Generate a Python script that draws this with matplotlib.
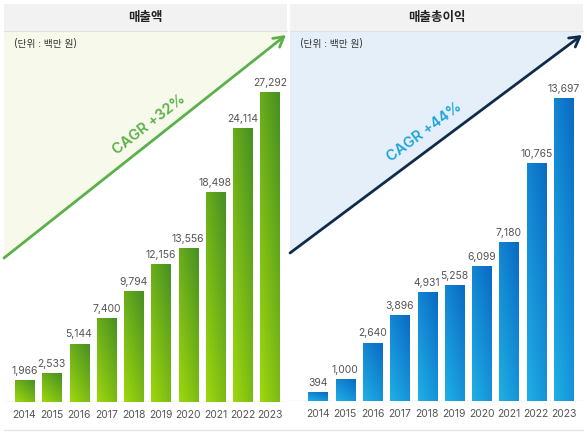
import numpy as np
import matplotlib.pyplot as plt
from matplotlib.patches import Rectangle, Polygon
from matplotlib.colors import to_rgb

plt.rcParams["font.family"] = ["Inter", "Noto Sans CJK KR", "DejaVu Sans"]

years = ["2014", "2015", "2016", "2017", "2018", "2019", "2020", "2021", "2022", "2023"]
sales = [1966, 2533, 5144, 7400, 9794, 12156, 13556, 18498, 24114, 27292]
gross_profit = [394, 1000, 2640, 3896, 4931, 5258, 6099, 7180, 10765, 13697]
titles = ["매출액", "매출총이익"]
cagr_labels = ["CAGR +32%", "CAGR +44%"]
unit_label = "(단위 : 백만 원)"

W, H = 587, 436
fig = plt.figure(figsize=(W / 100, H / 100), dpi=100)

# background layer in pixel coordinates
bg = fig.add_axes([0, 0, 1, 1])
bg.set_xlim(0, W)
bg.set_ylim(H, 0)
bg.axis("off")

panels = [
    dict(x0=4, x1=287, ybot=258, tri="#f7f9ea", arrow="#5bb04a", cagr="#5bb04a",
         cpos=(149, 125), rot=38.2),
    dict(x0=290, x1=583, ybot=253, tri="#e5eff9", arrow="#0e2b4b", cagr="#1fa3db",
         cpos=(424, 132), rot=36.7),
]

for p, title, cagr in zip(panels, titles, cagr_labels):
    bg.add_patch(Rectangle((p["x0"], 4), p["x1"] - p["x0"], 27, color="#f2f2f2", lw=0))
    bg.plot([p["x0"], p["x1"]], [31.5, 31.5], color="#e2e2e2", lw=0.8)
    bg.text((p["x0"] + p["x1"]) / 2, 17.5, title, ha="center", va="center",
            fontsize=9, fontweight="bold", color="#222222",
            family=["Noto Sans CJK KR", "DejaVu Sans"])
    bg.add_patch(Polygon([(p["x0"], 32), (p["x1"], 32), (p["x0"], p["ybot"])],
                         closed=True, color=p["tri"], lw=0))
    bg.annotate("", xy=(p["x1"] - 1, 35), xytext=(p["x0"], p["ybot"]),
                arrowprops=dict(arrowstyle="->,head_length=0.7,head_width=0.4",
                                color=p["arrow"], lw=2, shrinkA=0, shrinkB=0))
    bg.text(p["x0"] + 10, 44, unit_label, ha="left", va="center", fontsize=7,
            color="#333333")
    bg.text(p["cpos"][0], p["cpos"][1], cagr, ha="center", va="center",
            rotation=p["rot"], rotation_mode="anchor", fontsize=10.5,
            fontweight="semibold", color=p["cagr"])

bg.plot([4, 583], [430, 430], color="#e6e6e6", lw=1)


def gradient_bars(ax, values, light, dark, base_px, top_px, scale, left_px, right_px, c0):
    spacing = 27.28
    x = np.arange(len(values))
    ax.set_position([left_px / W, (H - base_px) / H, (right_px - left_px) / W,
                     (base_px - top_px) / H])
    bars = ax.bar(x, values, width=0.7, color="none", lw=0)
    light = np.array(to_rgb(light))
    dark = np.array(to_rgb(dark))
    u = np.linspace(0, 1, 30)
    v = np.linspace(1, 0, 120)
    uu, vv = np.meshgrid(u, v)
    d = (uu * 0.8 + vv * 1.2) / 2
    img = light[None, None, :] * (1 - d[..., None]) + dark[None, None, :] * d[..., None]
    for b in bars:
        bx, bw, bh = b.get_x(), b.get_width(), b.get_height()
        im = ax.imshow(img, extent=[bx, bx + bw, 0, bh], aspect="auto",
                       interpolation="bilinear", zorder=2)
        im.set_clip_path(b)
    ax.bar_label(bars, labels=[f"{v:,}" for v in values], padding=3,
                 fontsize=7.5, color="#555555")
    ax.set_xlim((left_px - c0) / spacing, (right_px - c0) / spacing)
    ax.set_ylim(0, (base_px - top_px) / scale)
    ax.axhline(0, color="#e4e4e4", lw=1, zorder=1)
    ax.set_xticks(x)
    ax.set_xticklabels(years, fontsize=7.5, color="#555555")
    ax.tick_params(axis="x", length=0, pad=6)
    ax.set_yticks([])
    for s in ax.spines.values():
        s.set_visible(False)
    ax.patch.set_alpha(0)


ax1 = fig.add_axes([0, 0, 1, 1])
gradient_bars(ax1, sales, "#9fd80c", "#468f24", 402, 34, 310 / 27292, 4, 287, 24.5)
ax2 = fig.add_axes([0, 0, 1, 1])
gradient_bars(ax2, gross_profit, "#1fb0e6", "#0a69c4", 401, 34, 303 / 13697, 290, 583, 318)

fig.savefig("out.png", dpi=100)
